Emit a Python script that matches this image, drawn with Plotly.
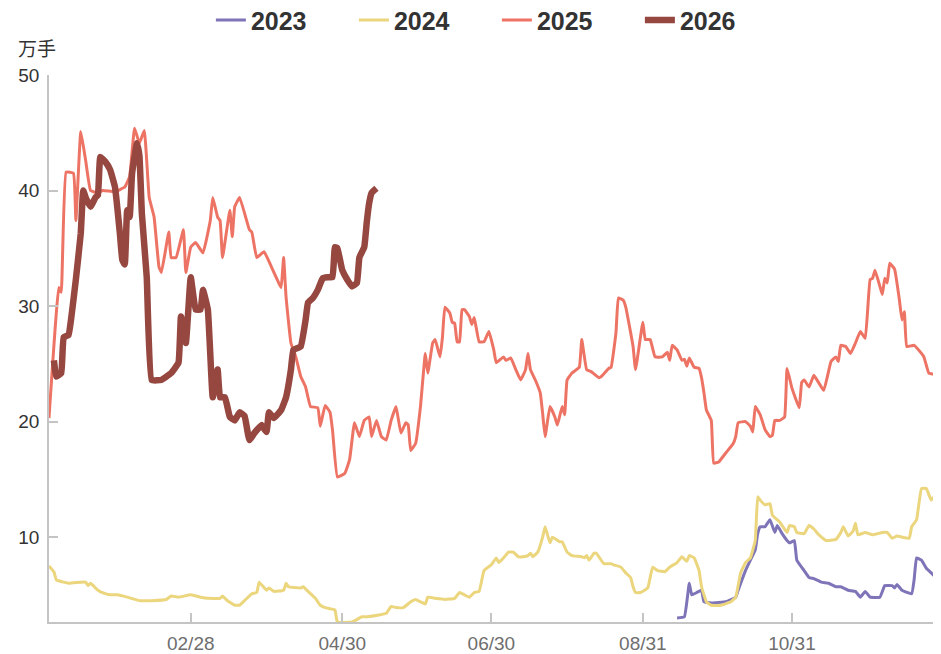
import plotly.graph_objects as go

# all years drawn on a common leap-year calendar axis (MM-DD)
BASE_YEAR = "2024"

dates_2023 = ["09-14", "09-17", "09-19", "09-20", "09-22", "09-24", "09-25", "09-28", "10-04", "10-08",
              "10-09", "10-12", "10-14", "10-16", "10-17", "10-18", "10-20", "10-22", "10-24", "10-25",
              "10-27", "10-29", "10-30", "11-01", "11-02", "11-05", "11-07", "11-09", "11-12", "11-15",
              "11-18", "11-20", "11-23", "11-26", "11-28", "11-30", "12-02", "12-06", "12-08", "12-11",
              "12-12", "12-13", "12-15", "12-19", "12-20", "12-21", "12-23", "12-25", "12-27", "12-29"]
vol_2023 = [3.0, 3.1, 6.0, 5.0, 5.2, 5.4, 4.4, 4.3, 4.4, 4.8,
            5.4, 7.1, 8.0, 8.9, 10.3, 10.9, 10.9, 11.5, 10.4, 11.0,
            10.3, 9.7, 9.5, 9.7, 8.0, 7.1, 6.5, 6.4, 6.1, 6.0,
            5.7, 5.7, 5.4, 5.3, 4.8, 5.3, 4.8, 4.8, 5.8, 5.8,
            5.6, 5.9, 5.4, 5.1, 6.3, 8.2, 8.0, 7.3, 6.9, 6.5]

dates_2024 = ["01-01", "01-03", "01-04", "01-07", "01-09", "01-14", "01-16", "01-17", "01-18", "01-21",
              "01-24", "01-26", "01-29", "02-02", "02-07", "02-12", "02-18", "02-20", "02-23", "02-28",
              "03-03", "03-06", "03-11", "03-12", "03-14", "03-17", "03-19", "03-21", "03-24", "03-26",
              "03-27", "03-30", "03-31", "04-02", "04-06", "04-07", "04-08", "04-13", "04-14", "04-16",
              "04-19", "04-21", "04-23", "04-25", "04-27", "04-28", "05-04", "05-08", "05-10", "05-15",
              "05-18", "05-20", "05-22", "05-25", "05-28", "05-30", "06-01", "06-03", "06-04", "06-07",
              "06-11", "06-15", "06-17", "06-19", "06-21", "06-23", "06-25", "06-27", "06-30", "07-02",
              "07-03", "07-05", "07-07", "07-09", "07-11", "07-13", "07-15", "07-16", "07-17", "07-19",
              "07-21", "07-22", "07-24", "07-25", "07-28", "07-29", "07-31", "08-02", "08-06", "08-07",
              "08-08", "08-09", "08-11", "08-12", "08-15", "08-18", "08-19", "08-22", "08-24", "08-26",
              "08-27", "08-28", "08-30", "09-02", "09-04", "09-06", "09-09", "09-11", "09-14", "09-16",
              "09-18", "09-19", "09-21", "09-23", "09-24", "09-26", "09-28", "10-02", "10-06", "10-08",
              "10-10", "10-12", "10-14", "10-16", "10-17", "10-18", "10-20", "10-22", "10-23", "10-26",
              "10-29", "10-30", "11-01", "11-02", "11-05", "11-07", "11-09", "11-11", "11-14", "11-18",
              "11-20", "11-21", "11-23", "11-25", "11-26", "11-27", "11-30", "12-03", "12-07", "12-09",
              "12-11", "12-13", "12-15", "12-18", "12-19", "12-21", "12-23", "12-25", "12-27", "12-29",
              "12-30", "12-31"]
vol_2024 = [7.5, 7.0, 6.3, 6.1, 6.0, 6.1, 6.1, 5.8, 6.0, 5.4,
            5.1, 5.0, 5.0, 4.8, 4.5, 4.5, 4.6, 4.9, 4.8, 5.0,
            4.8, 4.7, 4.7, 4.9, 4.5, 4.1, 4.1, 4.5, 5.1, 5.2,
            6.1, 5.4, 5.6, 5.3, 5.4, 6.0, 5.7, 5.6, 5.7, 5.3,
            4.7, 4.1, 3.9, 3.8, 3.7, 2.65, 2.65, 3.1, 3.1, 3.25,
            3.4, 4.0, 3.9, 3.9, 4.4, 4.6, 4.4, 4.2, 4.8, 4.7,
            4.6, 4.7, 5.2, 5.0, 4.8, 5.2, 5.3, 7.1, 7.6, 8.2,
            7.8, 8.2, 8.7, 8.7, 8.3, 8.3, 8.4, 8.6, 8.3, 8.7,
            10.0, 10.9, 9.5, 10.0, 9.6, 9.6, 8.7, 8.4, 8.3, 8.2,
            8.4, 8.0, 8.6, 8.6, 7.7, 7.7, 7.6, 7.4, 6.9, 6.5,
            5.7, 5.2, 5.2, 5.6, 7.4, 7.1, 7.0, 7.4, 7.8, 8.3,
            7.9, 8.4, 8.2, 7.1, 5.7, 4.4, 4.1, 4.1, 4.4, 4.8,
            6.9, 7.8, 8.2, 9.7, 13.5, 13.2, 12.8, 12.9, 11.9, 11.3,
            10.4, 11.0, 10.9, 10.4, 10.3, 11.0, 10.7, 10.2, 9.7, 9.8,
            10.4, 10.9, 10.1, 10.5, 11.2, 10.2, 10.4, 10.2, 10.4, 10.4,
            9.9, 10.1, 10.0, 9.9, 10.9, 11.5, 14.2, 14.2, 13.2, 13.8,
            15.0, 18.0]

dates_2025 = ["01-01", "01-05", "01-06", "01-08", "01-11", "01-12", "01-14", "01-16", "01-18", "01-21",
              "01-23", "01-28", "02-01", "02-03", "02-05", "02-07", "02-09", "02-11", "02-13", "02-15",
              "02-16", "02-19", "02-20", "02-22", "02-25", "02-26", "02-28", "03-01", "03-04", "03-07",
              "03-08", "03-10", "03-11", "03-12", "03-15", "03-16", "03-17", "03-19", "03-23", "03-24",
              "03-26", "03-29", "04-01", "04-04", "04-05", "04-06", "04-07", "04-09", "04-11", "04-13",
              "04-15", "04-17", "04-20", "04-21", "04-23", "04-25", "04-26", "04-28", "05-01", "05-03",
              "05-05", "05-07", "05-09", "05-11", "05-12", "05-14", "05-16", "05-18", "05-20", "05-22",
              "05-24", "05-26", "05-27", "05-28", "05-30", "06-01", "06-03", "06-04", "06-06", "06-07",
              "06-09", "06-10", "06-11", "06-13", "06-14", "06-15", "06-16", "06-17", "06-18", "06-19",
              "06-21", "06-22", "06-23", "06-25", "06-27", "06-29", "07-01", "07-02", "07-05", "07-06",
              "07-08", "07-10", "07-12", "07-14", "07-15", "07-16", "07-18", "07-20", "07-21", "07-22",
              "07-24", "07-26", "07-27", "07-29", "07-30", "07-31", "08-02", "08-05", "08-06", "08-08",
              "08-10", "08-13", "08-14", "08-17", "08-18", "08-20", "08-21", "08-23", "08-24", "08-26",
              "08-27", "08-28", "08-31", "09-01", "09-03", "09-05", "09-08", "09-10", "09-11", "09-12",
              "09-14", "09-16", "09-17", "09-18", "09-19", "09-21", "09-23", "09-24", "09-25", "09-26",
              "09-28", "09-29", "10-01", "10-04", "10-07", "10-08", "10-09", "10-12", "10-14", "10-15",
              "10-16", "10-18", "10-20", "10-22", "10-23", "10-24", "10-26", "10-28", "10-29", "10-31",
              "11-03", "11-04", "11-05", "11-07", "11-09", "11-13", "11-16", "11-18", "11-19", "11-20",
              "11-22", "11-24", "11-26", "11-28", "11-30", "12-02", "12-03", "12-04", "12-06", "12-07",
              "12-08", "12-09", "12-10", "12-12", "12-14", "12-15", "12-16", "12-17", "12-20", "12-23",
              "12-24", "12-26", "12-28", "12-29", "12-31"]
vol_2025 = [20.3, 31.6, 31.2, 41.6, 41.5, 37.4, 45.1, 42.6, 40.0, 39.8,
            40.0, 39.9, 40.3, 41.2, 45.4, 44.1, 45.2, 39.4, 37.7, 33.4,
            32.9, 36.4, 34.2, 34.2, 36.6, 32.9, 35.1, 35.5, 34.6, 37.4,
            39.4, 37.7, 37.4, 34.2, 38.3, 36.0, 38.6, 39.4, 36.6, 36.4,
            34.2, 34.7, 33.4, 32.0, 31.6, 34.2, 30.8, 26.8, 25.6, 23.9,
            23.0, 21.3, 21.2, 19.6, 21.4, 20.8, 19.3, 15.2, 15.5, 16.7,
            19.9, 18.7, 20.1, 20.4, 18.7, 20.1, 18.7, 18.4, 20.1, 21.3,
            19.0, 19.9, 19.7, 17.5, 18.1, 21.3, 25.9, 24.2, 26.8, 27.1,
            25.6, 27.3, 29.9, 29.4, 28.6, 28.5, 26.9, 26.9, 29.7, 29.7,
            29.1, 28.4, 29.0, 26.9, 26.9, 27.8, 26.2, 25.1, 25.6, 25.3,
            25.5, 24.5, 23.6, 24.5, 25.9, 24.5, 23.6, 22.5, 20.7, 18.7,
            21.3, 20.4, 19.7, 21.3, 20.6, 23.6, 24.2, 24.7, 27.1, 24.5,
            24.3, 23.8, 23.9, 24.6, 24.7, 27.7, 30.7, 30.5, 29.9, 27.7,
            26.5, 24.5, 28.6, 27.1, 27.1, 25.6, 25.6, 26.0, 25.3, 26.6,
            26.2, 25.3, 25.4, 24.8, 25.5, 24.7, 24.6, 23.8, 22.5, 21.0,
            20.1, 16.4, 16.5, 17.3, 18.1, 18.7, 19.9, 20.0, 19.6, 19.1,
            21.3, 20.6, 19.3, 18.7, 18.8, 20.1, 20.1, 20.4, 24.6, 22.9,
            21.2, 23.4, 23.6, 23.0, 24.0, 22.7, 25.2, 25.6, 25.2, 26.6,
            26.5, 25.9, 26.8, 27.8, 27.2, 32.3, 32.4, 33.1, 31.7, 31.0,
            32.4, 32.0, 33.7, 33.2, 30.5, 28.8, 29.5, 26.5, 26.6, 25.9,
            25.6, 24.2, 24.1, 23.3, 21.0]

dates_2026 = ["01-03", "01-04", "01-06", "01-07", "01-09", "01-10", "01-12", "01-14", "01-15", "01-16",
              "01-18", "01-20", "01-21", "01-22", "01-24", "01-26", "01-28", "01-30", "01-31", "02-01",
              "02-02", "02-03", "02-04", "02-06", "02-07", "02-08", "02-10", "02-12", "02-16", "02-20",
              "02-23", "02-24", "02-26", "02-28", "03-01", "03-03", "03-04", "03-06", "03-08", "03-10",
              "03-11", "03-13", "03-15", "03-17", "03-19", "03-21", "03-23", "03-25", "03-28", "03-30",
              "03-31", "04-02", "04-05", "04-07", "04-09", "04-10", "04-13", "04-15", "04-16", "04-18",
              "04-20", "04-22", "04-24", "04-26", "04-27", "04-28", "04-30", "05-02", "05-04", "05-06",
              "05-07", "05-09", "05-10", "05-11", "05-12", "05-14"]
vol_2026 = [25.3, 23.9, 24.2, 27.3, 27.5, 28.8, 32.3, 36.3, 40.0, 39.4,
            38.6, 39.4, 39.6, 42.9, 42.5, 41.8, 40.3, 36.3, 34.0, 33.6,
            38.3, 37.7, 41.5, 44.1, 43.0, 38.0, 32.5, 23.6, 23.6, 24.2,
            25.1, 29.1, 26.8, 32.5, 29.7, 29.7, 31.4, 29.7, 22.1, 24.5,
            22.1, 22.1, 20.4, 20.1, 20.8, 20.5, 18.4, 19.0, 19.7, 19.1,
            20.8, 20.3, 21.0, 22.1, 24.5, 26.2, 26.5, 28.8, 30.3, 30.7,
            31.4, 32.4, 32.5, 32.5, 35.1, 35.0, 33.1, 32.3, 31.7, 32.0,
            34.2, 35.1, 37.2, 38.9, 39.8, 40.2]

tick_dates = ["02-28", "04-30", "06-30", "08-31", "10-31"]
tick_labels = ["02/28", "04/30", "06/30", "08/31", "10/31"]
y_ticks = [10, 20, 30, 40, 50]

series = [
    ("2023", dates_2023, vol_2023, "#7e74b8", 3),
    ("2024", dates_2024, vol_2024, "#ebd57d", 3),
    ("2025", dates_2025, vol_2025, "#ed7465", 3),
    ("2026", dates_2026, vol_2026, "#954740", 6.5),
]

fig = go.Figure()
for name, d, v, color, w in series:
    fig.add_trace(go.Scatter(
        x=[BASE_YEAR + "-" + s for s in d], y=v, name=name, mode="lines",
        line=dict(color=color, width=w, shape="spline", smoothing=0.3),
    ))

ymin = min(min(vol_2023), min(vol_2024), min(vol_2025), min(vol_2026))

# the page body adds an 8px margin, so the figure is sized to the remaining space
fig.update_layout(
    width=933, height=646,
    margin=dict(l=41, r=0, t=67, b=32),
    paper_bgcolor="white", plot_bgcolor="white",
    font=dict(family="Liberation Sans, Arial, sans-serif", size=19, color="#333"),
    showlegend=True,
    legend=dict(
        orientation="h", xref="container", yref="container",
        x=0.524, y=0.981, xanchor="center", yanchor="middle",
        font=dict(size=25, color="#333", weight="bold"),
        itemwidth=30, entrywidth=98,
    ),
)
fig.update_xaxes(
    type="date", automargin=False,
    range=[BASE_YEAR + "-01-01", BASE_YEAR + "-12-31"],
    tickvals=[BASE_YEAR + "-" + s for s in tick_dates], ticktext=tick_labels,
    showline=True, linecolor="#c4c4c4", linewidth=1.5,
    ticks="inside", ticklen=9, tickcolor="#c4c4c4", tickwidth=1.5,
    tickfont=dict(color="#6e6e6e", size=19), ticklabelstandoff=3,
    showgrid=False, zeroline=False,
)
fig.update_yaxes(
    range=[ymin, 50], tickvals=y_ticks, automargin=False,
    showline=True, linecolor="#c4c4c4", linewidth=1.5,
    ticks="inside", ticklen=9, tickcolor="#c4c4c4", tickwidth=1.5,
    tickfont=dict(color="#333", size=19), ticklabelstandoff=4,
    showgrid=False, zeroline=False,
)
fig.add_annotation(
    text="万手", xref="paper", yref="paper", x=-0.037, y=1.051,
    xanchor="left", yanchor="middle", showarrow=False,
    font=dict(family="Noto Sans CJK SC", size=19, color="#333"),
)

fig.write_html("out.html")
